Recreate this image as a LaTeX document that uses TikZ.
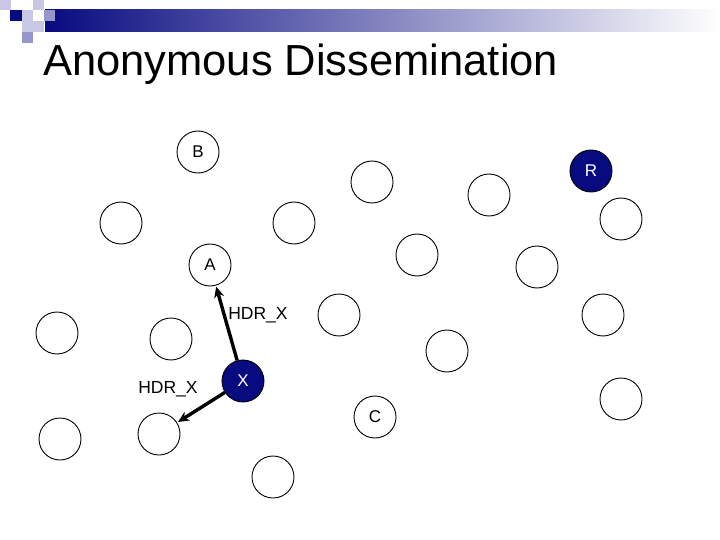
\documentclass[tikz,border=0pt]{standalone}
\usepackage{fontspec}
\setmainfont{Liberation Sans}
\usepackage{tikz}
\usetikzlibrary{positioning, arrows.meta}
\definecolor{slidenavy}{RGB}{8,10,128}
\definecolor{tilelight}{RGB}{200,200,230}
\definecolor{tilemid}{RGB}{150,150,205}
\newcommand\Dia{42pt}

\begin{document}
\begin{tikzpicture}[x=1pt, y=-1pt,
    peer/.style={circle, draw, line width=0.9pt, minimum size=\Dia, inner sep=0pt, font=\fontsize{17}{17}\selectfont},
    relay/.style={peer, fill=slidenavy, text=white},
    hdr/.style={-{Stealth[length=11pt, width=10pt]}, line width=3.4pt, shorten >=1pt},
    lbl/.style={font=\fontsize{17.5}{17.5}\selectfont, inner sep=0pt}]
  \useasboundingbox (0,0) rectangle (720,540);
  % slide header
  \shade[left color=slidenavy, right color=white] (45,10) rectangle (720,32);
  \fill[tilelight] (0,0) rectangle (11,10);
  \fill[tilelight] (33,0) rectangle (44,10);
  \fill[slidenavy] (10,10) rectangle (22,21);
  \fill[tilelight] (22,10) rectangle (33,21);
  \fill[tilemid] (44,10) rectangle (55,21);
  \fill[tilelight] (22,21) rectangle (44,32);
  \fill[tilemid] (22,32) rectangle (33,43);
  \node[font=\fontsize{43.5}{43.5}\selectfont, anchor=base west, inner sep=0pt] (title) at (43,76) {Anonymous Dissemination};
  % empty peers
  \foreach \px/\py [count=\i] in {121/223, 294/223, 372/182, 489/195, 621/219, 417/255, 537/267,
                                  603/315, 339/315, 447/351, 621/399, 57/333, 171/339, 60/439, 273/477}{
    \node[peer] at (\px,\py) (n\i) {};
  }
  \node[peer] at (159,434) (hop) {};
  % named peers
  \node[peer] at (198,152) (B) {B};
  \node[peer] at (210,265) (A) {A};
  \node[peer] at (375,417) (C) {C};
  \node[relay] at (591,171) (R) {R};
  \node[relay] at (243,381) (X) {X};
  % header forwarding
  \draw[hdr] (X) -- (A);
  \draw[hdr] (X) -- (hop);
  \node[lbl] at (258,315) (hdr1) {HDR\_X};
  \node[lbl] at (168,389) (hdr2) {HDR\_X};
\end{tikzpicture}
\end{document}
